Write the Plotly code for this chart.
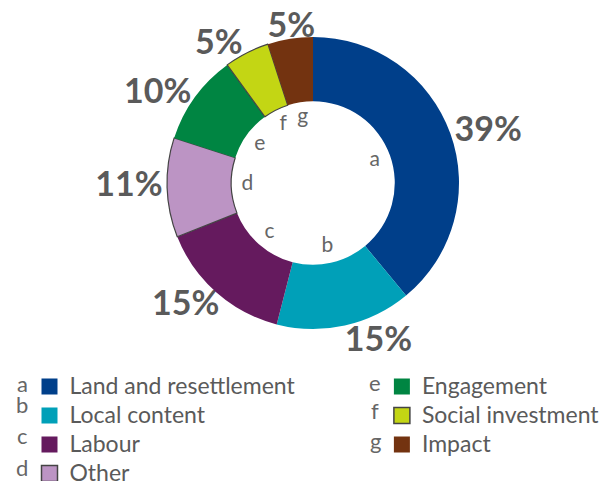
import plotly.graph_objects as go

letters = ['a', 'b', 'c', 'd', 'e', 'f', 'g']
categories = ['Land and resettlement', 'Local content', 'Labour', 'Other',
              'Engagement', 'Social investment', 'Impact']
shares = [39, 15, 15, 11, 10, 5, 5]
colors = ['#003f8a', '#00a0b8', '#651a5e', '#bc94c4',
          '#008542', '#c3d614', '#733310']
outlined = [False, False, False, True, False, True, False]

# % label placement: anchor radius (1 = outer ring edge) and text side
label_r = [1.03, 1.0, 0.97, 1.03, 1.03, 1.06, 0.95]
label_pos = ['middle right', 'bottom right', 'bottom left', 'middle left',
             'middle left', 'middle left', 'top center']

GREY = '#5a5a5a'
FONT = 'Lato'
PIE_X = [0.27288, 0.75]
PIE_Y = [0.31601, 0.92308]
# polar overlay: same centre, 1.25x the radius, so r=1 is the ring edge
POL_X = [0.2132, 0.8096]
POL_Y = [0.2401, 0.999]

# slice mid angles (degrees clockwise from 12 o'clock)
total = sum(shares)
mids = []
acc = 0
for s in shares:
    mids.append((acc + s / 2) / total * 360)
    acc += s

line_w = [1.2 if o else 0 for o in outlined]
line_c = ['#444444' if o else 'rgba(0,0,0,0)' for o in outlined]

fig = go.Figure()

fig.add_trace(go.Pie(
    values=shares,
    labels=categories,
    sort=False,
    direction='clockwise',
    rotation=0,
    hole=0.56,
    marker=dict(colors=colors, line=dict(color=line_c, width=line_w)),
    textinfo='none',
    showlegend=False,
    hoverinfo='skip',
    domain=dict(x=PIE_X, y=PIE_Y),
))

# percentage labels just outside the ring
fig.add_trace(go.Scatterpolar(
    r=label_r,
    theta=mids,
    mode='text',
    text=[f'{s}%' for s in shares],
    textposition=label_pos,
    textfont=dict(family=FONT, size=34, color=GREY, weight='bold'),
    cliponaxis=False,
    showlegend=False,
    hoverinfo='skip',
))

# slice letters inside the hole
fig.add_trace(go.Scatterpolar(
    r=[0.45] * len(shares),
    theta=mids,
    mode='text',
    text=letters,
    textposition='middle center',
    textfont=dict(family=FONT, size=21, color='#666666'),
    cliponaxis=False,
    showlegend=False,
    hoverinfo='skip',
))

# legend entries (two columns -> two legends)
for i, cat in enumerate(categories):
    fig.add_trace(go.Scatter(
        x=[None], y=[None],
        mode='markers',
        name=f'<span style="font-size:23px">{cat}</span>',
        marker=dict(symbol='square', size=16, color=colors[i],
                    line=dict(color='#444444', width=1.5 if outlined[i] else 0)),
        legend='legend' if i < 4 else 'legend2',
        showlegend=True,
    ))

legend_common = dict(
    font=dict(family=FONT, size=20, color=GREY),
    bgcolor='rgba(0,0,0,0)',
    yanchor='top',
    xanchor='left',
    itemclick=False,
)

annotations = []
col_x = [0.036, 0.613]
letter_y = [0.2027, 0.160, 0.0946, 0.028, 0.2048, 0.1476, 0.085]
for i, lt in enumerate(letters):
    col = 0 if i < 4 else 1
    annotations.append(dict(
        x=col_x[col], y=letter_y[i], xref='paper', yref='paper',
        text=lt, showarrow=False, xanchor='center', yanchor='middle',
        font=dict(family=FONT, size=22, color='#666666'),
    ))

fig.update_layout(
    width=612, height=481,
    margin=dict(l=0, r=0, t=0, b=0, autoexpand=False),
    paper_bgcolor='white',
    plot_bgcolor='white',
    xaxis=dict(visible=False),
    yaxis=dict(visible=False),
    polar=dict(
        domain=dict(x=POL_X, y=POL_Y),
        bgcolor='rgba(0,0,0,0)',
        radialaxis=dict(range=[0, 1.25], visible=False),
        angularaxis=dict(rotation=90, direction='clockwise', visible=False),
    ),
    legend=dict(x=0.0482, y=0.237, **legend_common),
    legend2=dict(x=0.624, y=0.237, **legend_common),
    annotations=annotations,
)

# the page body has an 8px default margin; drop it so the 612x481 figure fills the window
fig.write_html('out.html', config={'displayModeBar': False},
               post_script="document.body.style.margin='0px';")
